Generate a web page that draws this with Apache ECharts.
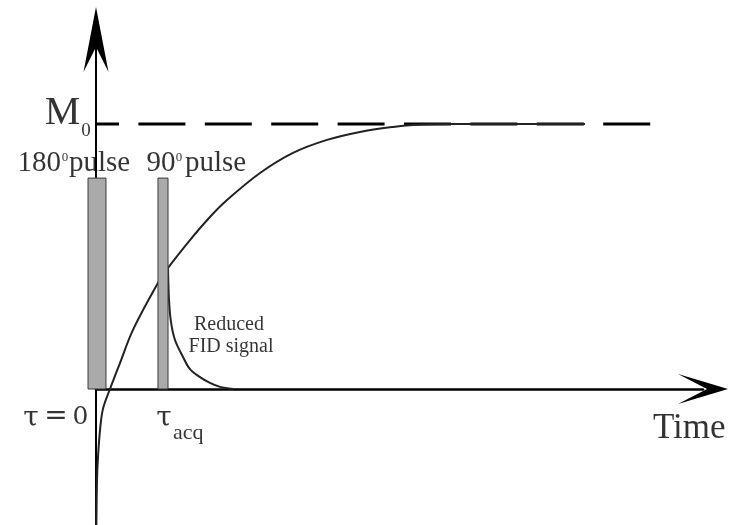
<!DOCTYPE html>
<html><head><meta charset="utf-8">
<script src="https://cdn.jsdelivr.net/npm/echarts@6/dist/echarts.min.js"></script>
<style>html,body{margin:0;padding:0;background:#fff}#c{width:731px;height:525px}</style>
</head><body><div id="c"></div>
<script>
// Magnetisation recovery after the 180° pulse (time in units of tau_acq, M in units of M0)
const recoveryTime = [0.004,0.015,0.030,0.060,0.104,0.209,0.358,0.552,0.925,1.075,1.403,1.701,1.955,2.448,2.940,3.448,3.940,4.433,4.731,5.284,7.299];
const recoveryM    = [-0.55,-0.343,-0.257,-0.155,-0.075,0,0.098,0.223,0.400,0.457,0.562,0.649,0.713,0.815,0.891,0.940,0.970,0.989,0.996,1.000,1.000];
// Reduced FID signal after the 90° pulse
const fidTime = [1.075,1.090,1.119,1.179,1.299,1.403,1.552,1.701,1.851,2.045];
const fidM    = [0.457,0.336,0.253,0.185,0.121,0.075,0.045,0.023,0.008,0];
// RF pulses
const pulseStart  = [-0.119, 0.925];
const pulseEnd    = [0.149, 1.075];
const pulseHeight = [0.796, 0.796];
// M0 equilibrium level
const m0Time  = [0, 8.284];
const m0Value = [1, 1];
// texts
const pulseAngles = ['180', '90'];
const degreeMark = '0';
const pulseWord = 'pulse';
const m0Text = ['M', '0'];
const fidText = ['Reduced', 'FID signal'];
const tauZeroText = ['τ', '=', '0'];
const tauAcqText = ['τ', 'acq'];
const timeText = 'Time';

const serif = 'Liberation Serif';
const serif2 = 'DejaVu Serif';
function lab(t, m, text, size, align, family) {
  return { name: text, value: [t, m],
    label: { fontSize: size, align: align, fontFamily: family || serif } };
}
const labelData = [
  lab(-0.500, 1.040, m0Text[0], 40, 'center'),
  lab(-0.149, 0.972, m0Text[1], 19, 'center'),
  lab(-0.522, 0.853, pulseAngles[0], 29, 'right'),
  lab(-0.463, 0.874, degreeMark, 13, 'center'),
  lab(-0.403, 0.853, pulseWord, 29, 'left'),
  lab(1.187, 0.853, pulseAngles[1], 29, 'right'),
  lab(1.239, 0.874, degreeMark, 13, 'center'),
  lab(1.328, 0.853, pulseWord, 29, 'left'),
  lab(1.985, 0.242, fidText[0], 20, 'center'),
  lab(2.015, 0.160, fidText[1], 20, 'center'),
  lab(-0.970, -0.112, tauZeroText[0], 28, 'center', serif2),
  lab(-0.597, -0.106, tauZeroText[1], 28, 'center', serif2),
  lab(-0.231, -0.108, tauZeroText[2], 25, 'center', serif2),
  lab(1.015, -0.112, tauAcqText[0], 28, 'center', serif2),
  lab(1.149, -0.166, tauAcqText[1], 22, 'left'),
  lab(8.313, -0.151, timeText, 35, 'left')
];

const chart = echarts.init(document.getElementById('c'), null, { renderer: 'canvas' });
chart.setOption({
  animation: false,
  backgroundColor: '#ffffff',
  grid: { left: 96, right: 28, top: 39.5, bottom: 0, containLabel: false },
  xAxis: {
    type: 'value', min: 0, max: 9.0597,
    axisLine: { show: true, onZero: true,
      symbol: ['none', 'path://M15,0 L30,50 L15,21 L0,50 Z'], symbolSize: [30, 50],
      lineStyle: { color: '#000', width: 2.5 } },
    axisTick: { show: false }, axisLabel: { show: false }, splitLine: { show: false }
  },
  yAxis: {
    type: 'value', min: -0.5132, max: 1.3189,
    axisLine: { show: true, onZero: true,
      symbol: ['none', 'path://M12.5,0 L25,65 L12.5,40 L0,65 Z'], symbolSize: [25, 65],
      lineStyle: { color: '#000', width: 2 } },
    axisTick: { show: false }, axisLabel: { show: false }, splitLine: { show: false }
  },
  series: [
    { type: 'line', name: 'M0', silent: true, symbol: 'none', z: 2,
      data: m0Time.map((t, i) => [t, m0Value[i]]),
      lineStyle: { color: '#000', width: 3, type: [47, 19.4], dashOffset: 24 } },
    { type: 'line', name: 'recovery', silent: true, symbol: 'none', z: 3,
      smooth: 0.35,
      data: recoveryTime.map((t, i) => [t, recoveryM[i]]),
      lineStyle: { color: '#222', width: 2 } },
    { type: 'line', name: 'fid', silent: true, symbol: 'none', z: 3,
      smooth: 0.35,
      data: fidTime.map((t, i) => [t, fidM[i]]),
      lineStyle: { color: '#222', width: 2 } },
    { type: 'custom', name: 'pulses', silent: true, z: 4, clip: false,
      data: pulseStart.map((s, i) => [s, pulseEnd[i], pulseHeight[i]]),
      encode: { x: [0, 1], y: 2 },
      renderItem: function (params, api) {
        const p0 = api.coord([api.value(0), api.value(2)]);
        const p1 = api.coord([api.value(1), 0]);
        return { type: 'rect',
          shape: { x: p0[0], y: p0[1], width: p1[0] - p0[0], height: p1[1] - p0[1] },
          style: { fill: '#aaaaaa', stroke: '#3a3a3a', lineWidth: 1 } };
      } },
    { type: 'scatter', name: 'labels', silent: true, z: 5, symbolSize: 0, clip: false,
      itemStyle: { color: 'transparent' },
      label: { show: true, position: 'inside', verticalAlign: 'middle', formatter: '{b}', color: '#000' },
      data: labelData }
  ]
});
</script></body></html>
